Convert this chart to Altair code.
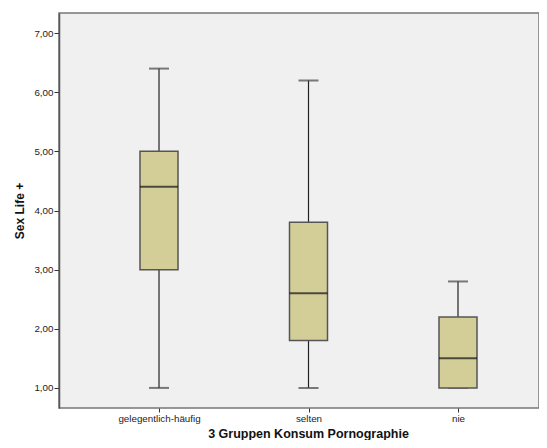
import altair as alt
import pandas as pd

groups = ["gelegentlich-häufig", "selten", "nie"]
mins = [1.0, 1.0, 1.0]
q1s = [3.0, 1.8, 1.0]
medians = [4.4, 2.6, 1.5]
q3s = [5.0, 3.8, 2.2]
maxs = [6.4, 6.2, 2.8]

df = pd.DataFrame({"g": groups, "lo": mins, "q1": q1s, "med": medians, "q3": q3s, "hi": maxs})

xs = alt.X("g:N", sort=groups, title="3 Gruppen Konsum Pornographie",
           scale=alt.Scale(type="point", padding=0.6054, align=0.5525),
           axis=alt.Axis(labelAngle=0, labelFont="Liberation Sans", labelFontSize=9.8,
                         labelColor="#222", titleFont="Liberation Sans", titleFontSize=12.5,
                         titleFontWeight="bold", titleColor="#111", tickColor="#333",
                         tickSize=4, domain=False, labelPadding=1,
                         titleX=249, titleY=29.5, titleBaseline="alphabetic", titleAlign="center"))
yscale = alt.Scale(domain=[0.66, 7.34], nice=False, zero=False)
yax = alt.Axis(values=[1, 2, 3, 4, 5, 6, 7], labelExpr="replace(format(datum.value, '.2f'), '.', ',')",
               grid=False, labelFont="Liberation Sans", labelFontSize=9.8, labelColor="#222",
               titleFont="Liberation Sans", titleFontSize=12, titleFontWeight="bold",
               titleColor="#111", tickColor="#333", tickSize=5, domainColor="#555",
               domainWidth=1.5, labelPadding=1, titlePadding=7)

base = alt.Chart(df)
whisk_lo = base.mark_rule(color="#222", strokeWidth=1.2).encode(
    x=xs, y=alt.Y("lo:Q", scale=yscale, axis=yax, title="Sex Life +"), y2="q1:Q")
whisk_hi = base.mark_rule(color="#222", strokeWidth=1.2).encode(x=xs, y=alt.Y("q3:Q", scale=yscale), y2="hi:Q")
box = base.mark_bar(size=38, fill="#D3CE98", stroke="#555", strokeWidth=1.5).encode(
    x=xs, y=alt.Y("q1:Q", scale=yscale), y2="q3:Q")
cap_lo = base.mark_tick(size=20, thickness=2, color="#444", orient="horizontal").encode(x=xs, y=alt.Y("lo:Q", scale=yscale))
cap_hi = base.mark_tick(size=20, thickness=2, color="#444", orient="horizontal").encode(x=xs, y=alt.Y("hi:Q", scale=yscale))
med = base.mark_tick(size=38, thickness=2, color="#111", orient="horizontal").encode(x=xs, y=alt.Y("med:Q", scale=yscale))

chart = alt.layer(whisk_lo, whisk_hi, cap_lo, cap_hi, box, med).properties(
    width=480, height=395,
    autosize=alt.AutoSizeParams(type="none"),
    padding={"left": 51, "top": 5, "right": 0, "bottom": 32},
).configure(background="white").configure_view(fill="#F0F0F0", stroke="#777", strokeWidth=1.5)

chart.save("out.html", embed_options={"renderer": "svg", "actions": False})
